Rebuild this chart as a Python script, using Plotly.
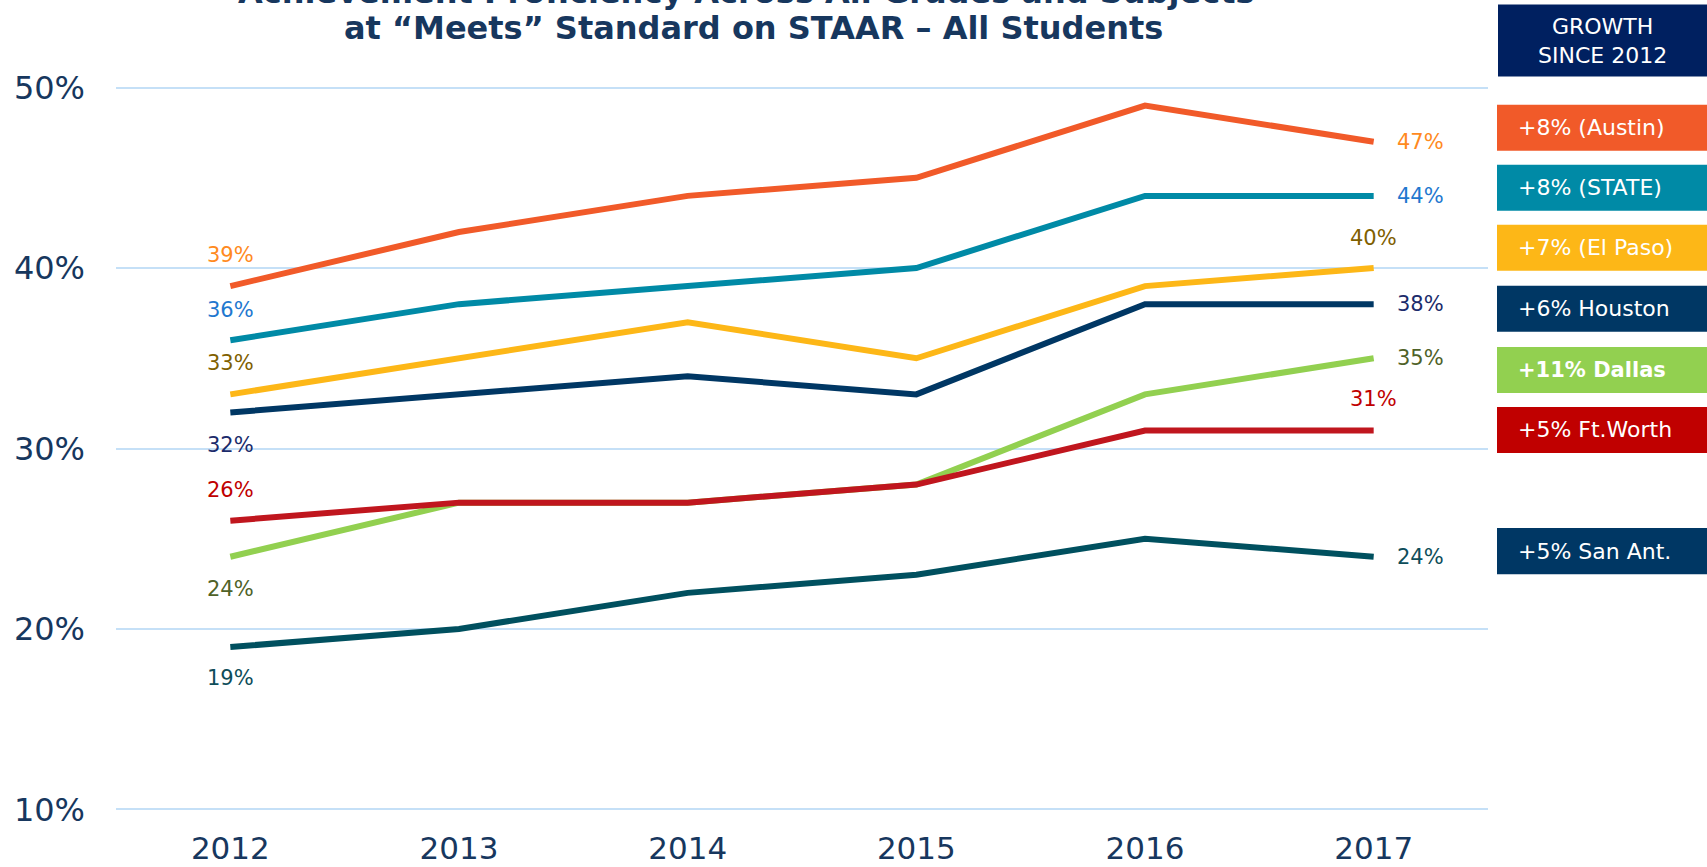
import plotly.graph_objects as go

# ---------------- data ----------------
years = ["2012", "2013", "2014", "2015", "2016", "2017"]
austin = [39, 42, 44, 45, 49, 47]
state = [36, 38, 39, 40, 44, 44]
el_paso = [33, 35, 37, 35, 39, 40]
houston = [32, 33, 34, 33, 38, 38]
dallas = [24, 27, 27, 28, 33, 35]
ft_worth = [26, 27, 27, 28, 31, 31]
san_antonio = [19, 20, 22, 23, 25, 24]
y_ticks = [10, 20, 30, 40, 50]
growth_labels = ["+8% (Austin)", "+8% (STATE)", "+7% (El Paso)", "+6% Houston",
                 "+11% Dallas", "+5% Ft.Worth", "+5% San Ant."]
title_lines = ["Achievement Proficiency Across All Grades and Subjects",
               "at “Meets” Standard on STAAR – All Students"]

# ---------------- styling ----------------
W, H = 1707, 867
PL, PR = 116, 1488           # plot area x (px)
Y_RANGE = [9.8, 50.2]
PX_PER = 721 / 40.0
PT = 88 - (Y_RANGE[1] - 50) * PX_PER
PB = 809 + (10 - Y_RANGE[0]) * PX_PER

def px_x(px):
    return (px - PL) / (PR - PL)

def px_y(py):
    return (PB - py) / (PB - PT)

NAVY_TXT = "#17375E"
FONT = "DejaVu Sans, Verdana, sans-serif"

series = [
    # name, values, line colour, label colour, left dy, right (dx, dy)
    ("Austin", austin, "#F15A29", "#FF8A1E", 31, (47, 0)),
    ("STATE", state, "#008AA6", "#1F78CF", 30, (47, 0)),
    ("El Paso", el_paso, "#FDB717", "#7F6000", 31, (0, 30)),
    ("Houston", houston, "#003764", "#1B2B6B", -33, (47, 0)),
    ("Dallas", dallas, "#92D050", "#4F6228", -32, (47, 0)),
    ("Ft.Worth", ft_worth, "#C0161E", "#C00000", 31, (0, 31)),
    ("San Antonio", san_antonio, "#00505F", "#0E4D5A", -31, (47, 0)),
]
draw_order = ["San Antonio", "Dallas", "Ft.Worth", "Houston", "El Paso", "STATE", "Austin"]

box_colors = ["#F15A29", "#008AA6", "#FDB717", "#003764", "#92D050", "#C00000", "#003764"]
box_tops = [105, 165, 225, 286, 347, 407, 528]
BOX_H = 46

fig = go.Figure()
lookup = {s[0]: s for s in series}
for name in draw_order:
    s = lookup[name]
    fig.add_trace(go.Scatter(
        x=years, y=s[1], mode="lines", name=name,
        line=dict(color=s[2], width=6),
        hoverinfo="skip", showlegend=False,
    ))

annotations = []
last = len(years) - 1
for name, vals, lc, tc, ldy, (rdx, rdy) in series:
    annotations.append(dict(
        x=0, y=vals[0], xref="x", yref="y", text=f"{vals[0]}%",
        showarrow=False, yshift=ldy, xanchor="center", yanchor="middle",
        font=dict(family=FONT, size=21, color=tc)))
    annotations.append(dict(
        x=last, y=vals[-1], xref="x", yref="y", text=f"{vals[-1]}%",
        showarrow=False, xshift=rdx, yshift=rdy, xanchor="center", yanchor="middle",
        font=dict(family=FONT, size=21, color=tc)))

# title (first line is cut off at the top of the image, as in the original)
for line, cx, cy in zip(title_lines, [746, 753], [-8, 28]):
    annotations.append(dict(
        x=px_x(cx), y=px_y(cy), xref="paper", yref="paper", text=f"<b>{line}</b>",
        showarrow=False, xanchor="center", yanchor="middle",
        font=dict(family=FONT, size=32, color="#17375E")))

shapes = []
shapes.append(dict(type="rect", xref="paper", yref="paper",
                   x0=px_x(1498), x1=px_x(1710), y0=px_y(77), y1=px_y(5),
                   fillcolor="#002060", line=dict(width=0), layer="above"))
annotations.append(dict(
    x=px_x(1602), y=px_y(41), xref="paper", yref="paper",
    text="GROWTH<br>SINCE 2012", showarrow=False, xanchor="center", yanchor="middle",
    align="center", font=dict(family=FONT, size=22, color="white")))

for lab, col, top in zip(growth_labels, box_colors, box_tops):
    shapes.append(dict(type="rect", xref="paper", yref="paper",
                       x0=px_x(1497), x1=px_x(1710), y0=px_y(top + BOX_H), y1=px_y(top),
                       fillcolor=col, line=dict(width=0), layer="above"))
    bold = "Dallas" in lab
    annotations.append(dict(
        x=px_x(1516), y=px_y(top + BOX_H / 2), xref="paper", yref="paper",
        text=f"<b>{lab}</b>" if bold else lab, showarrow=False,
        xanchor="left", yanchor="middle",
        font=dict(family=FONT, size=22 if not bold else 21, color="white")))

fig.update_layout(
    width=W, height=H,
    margin=dict(l=PL, r=W - PR, t=PT, b=H - PB, pad=0, autoexpand=False),
    paper_bgcolor="white", plot_bgcolor="white",
    showlegend=False,
    annotations=annotations, shapes=shapes,
    xaxis=dict(
        type="category", range=[-0.5, 5.5], showgrid=False, zeroline=False,
        showline=False, ticks="", ticklabelstandoff=14, automargin=False,
        tickfont=dict(family=FONT, size=31, color=NAVY_TXT),
    ),
    yaxis=dict(
        range=Y_RANGE, tickvals=y_ticks, ticktext=[f"{v}%" for v in y_ticks],
        showgrid=True, gridcolor="#C5E0F7", gridwidth=2, zeroline=False,
        showline=False, ticks="", ticklabelstandoff=30, automargin=False,
        tickfont=dict(family=FONT, size=32, color=NAVY_TXT),
    ),
)

fig.write_html(
    "out.html",
    config={"displayModeBar": False},
    post_script="document.body.style.margin='0';document.body.style.overflow='hidden';",
)
